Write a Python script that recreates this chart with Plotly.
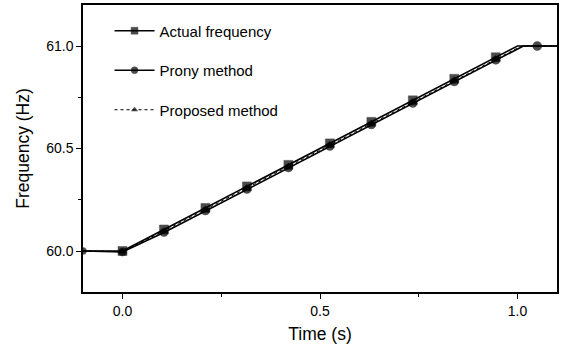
import plotly.graph_objects as go

# Sample times (s) and frequencies (Hz)
t_actual = [-0.1, 0.0, 0.105, 0.21, 0.315, 0.42, 0.525, 0.63, 0.735, 0.84, 0.945, 1.0, 1.1]
f_actual = [60.0, 60.0, 60.105, 60.21, 60.315, 60.42, 60.525, 60.63, 60.735, 60.84, 60.945, 61.0, 61.0]
m_actual = [0, 9, 9, 9, 9, 9, 9, 9, 9, 9, 9, 0, 0]

t_prony = [-0.1, 0.0, 0.105, 0.21, 0.315, 0.42, 0.525, 0.63, 0.735, 0.84, 0.945, 1.015, 1.05, 1.1]
f_prony = [60.0, 59.995, 60.09, 60.195, 60.3, 60.405, 60.51, 60.615, 60.72, 60.825, 60.93, 61.0, 61.0, 61.0]
m_prony = [7, 8, 8, 8, 8, 8, 8, 8, 8, 8, 8, 0, 9, 0]

t_prop = [-0.1, 0.0, 0.105, 0.21, 0.315, 0.42, 0.525, 0.63, 0.735, 0.84, 0.945, 1.01, 1.1]
f_prop = [60.0, 59.998, 60.098, 60.203, 60.308, 60.413, 60.518, 60.623, 60.728, 60.833, 60.938, 61.0, 61.0]
m_prop = [0, 7, 7, 7, 7, 7, 7, 7, 7, 7, 7, 0, 0]

names = ["Actual frequency", "Prony method", "Proposed method"]
x_ticks = [0.0, 0.5, 1.0]
x_tick_labels = ["0.0", "0.5", "1.0"]
y_ticks = [60.0, 60.5, 61.0]
y_tick_labels = ["60.0", "60.5", "61.0"]

fig = go.Figure()
fig.add_trace(go.Scatter(
    x=t_prony, y=f_prony, name=names[1], mode="lines+markers",
    legendgroup="g2", legendrank=2,
    line=dict(color="black", width=1.6),
    marker=dict(symbol="circle", size=m_prony, color="black",
                line=dict(color="black", width=0.5))))
fig.add_trace(go.Scatter(
    x=t_prop, y=f_prop, name=names[2], mode="lines+markers",
    legendgroup="g3", legendrank=3,
    line=dict(color="black", width=1, dash="dot"),
    marker=dict(symbol="triangle-up", size=m_prop, color="black",
                line=dict(color="black", width=0.5))))
fig.add_trace(go.Scatter(
    x=t_actual, y=f_actual, name=names[0], mode="lines+markers",
    legendgroup="g1", legendrank=1,
    line=dict(color="black", width=1.6),
    marker=dict(symbol="square", size=m_actual, color="black",
                line=dict(color="black", width=0.5))))

font = "Liberation Sans, Arial, sans-serif"
fig.update_layout(
    width=562, height=347,
    margin=dict(l=83, r=3, t=5, b=55),
    paper_bgcolor="white", plot_bgcolor="white",
    font=dict(family=font, color="black", size=14),
    showlegend=True,
    legend=dict(
        x=0.056, y=0.967, xanchor="left", yanchor="top",
        traceorder="grouped", tracegroupgap=17,
        font=dict(size=15, family=font), bgcolor="rgba(0,0,0,0)",
        itemwidth=40),
    xaxis=dict(
        range=[-0.1, 1.1], tickvals=x_ticks, ticktext=x_tick_labels,
        showgrid=False, zeroline=False,
        showline=True, linecolor="black", linewidth=1.5, mirror=True,
        ticks="outside", ticklen=5, tickwidth=1.2, tickcolor="black",
        minor=dict(tickvals=[0.25, 0.75], ticks="outside", ticklen=3, tickcolor="black"),
        tickfont=dict(size=14),
        title=dict(text="Time (s)", font=dict(size=17.5), standoff=10)),
    yaxis=dict(
        range=[59.8, 61.2], tickvals=y_ticks, ticktext=y_tick_labels,
        showgrid=False, zeroline=False,
        showline=True, linecolor="black", linewidth=1.5, mirror=True,
        ticks="outside", ticklen=5, tickwidth=1.2, tickcolor="black",
        minor=dict(tickvals=[60.25, 60.75], ticks="outside", ticklen=3, tickcolor="black"),
        tickfont=dict(size=14),
        title=dict(text="Frequency (Hz)", font=dict(size=17.5), standoff=12)),
)

fig.write_html("out.html")
